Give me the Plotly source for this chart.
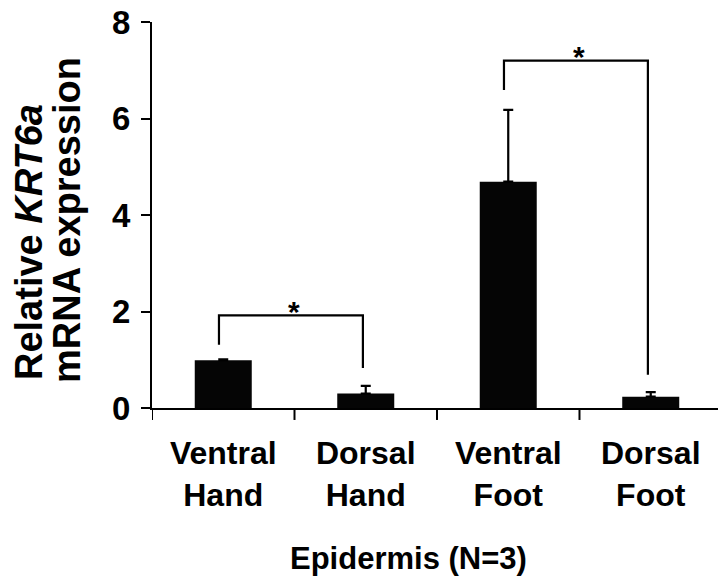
import plotly.graph_objects as go

categories = ["Ventral<br>Hand", "Dorsal<br>Hand", "Ventral<br>Foot", "Dorsal<br>Foot"]
values = [0.99, 0.30, 4.69, 0.235]
errors = [0.02, 0.16, 1.49, 0.095]
y_ticks = [0, 2, 4, 6, 8]

# significance comparisons: (left index, right index, left leg bottom, top, right leg bottom)
comparisons = [
    (0, 1, 1.31, 1.92, 0.83),
    (2, 3, 6.59, 7.20, 0.69),
]

FONT = "Liberation Sans, Arial, sans-serif"
BLACK = "#050505"

fig = go.Figure()
fig.add_trace(go.Bar(
    x=list(range(len(categories))),
    y=values,
    width=0.4,
    marker=dict(color=BLACK, line=dict(width=0)),
    error_y=dict(type="data", array=errors, arrayminus=[0]*len(errors),
                 symmetric=False, color="black", thickness=2.2, width=5),
))

shapes = []
annotations = []
for li, ri, lb, top, rb in comparisons:
    xl = li - 0.03
    xr = ri - 0.02
    shapes.append(dict(type="path", xref="x", yref="y",
                       path=f"M {xl},{lb} L {xl},{top} L {xr},{top} L {xr},{rb}",
                       line=dict(color="black", width=2.2)))
    annotations.append(dict(x=(xl + xr) / 2 + 0.02, y=top, xref="x", yref="y",
                            text="<b>*</b>", showarrow=False, yanchor="middle",
                            yshift=4, font=dict(family=FONT, size=30, color="black")))

# y-axis title, two tightly spaced lines
annotations.append(dict(x=0, y=0.43, xref="paper", yref="paper", xshift=-123,
                        text="<b>Relative <i>KRT6a</i></b>",
                        textangle=-90, showarrow=False, xanchor="center", yanchor="middle",
                        font=dict(family=FONT, size=38, color="black")))
annotations.append(dict(x=0, y=0.487, xref="paper", yref="paper", xshift=-85,
                        text="<b>mRNA expression</b>",
                        textangle=-90, showarrow=False, xanchor="center", yanchor="middle",
                        font=dict(family=FONT, size=38, color="black")))

annotations.append(dict(x=0.453, y=-0.389, xref="paper", yref="paper",
                        text="<b>Epidermis (N=3)</b>", showarrow=False,
                        xanchor="center", yanchor="middle",
                        font=dict(family=FONT, size=31, color="black")))

fig.update_layout(
    width=718, height=585,
    margin=dict(l=152, r=0, t=22, b=177),
    paper_bgcolor="white", plot_bgcolor="white",
    showlegend=False,
    shapes=shapes,
    annotations=annotations,
    xaxis=dict(
        range=[-0.5, 3.472],
        tickmode="array",
        tickvals=[0, 1, 2, 3],
        ticktext=[f"<b>{c}</b>" for c in categories],
        showgrid=False, zeroline=False,
        showline=True, linecolor="black", linewidth=2,
        ticks="",
        tickfont=dict(family=FONT, size=32, color="black"),
        ticklabelstandoff=16,
        ticklabeloverflow="allow",
        automargin=False,
    ),
    yaxis=dict(
        range=[0, 8],
        tickvals=y_ticks,
        ticktext=[f"<b>{t}</b>" for t in y_ticks],
        showgrid=False, zeroline=False,
        showline=True, linecolor="black", linewidth=2,
        ticks="outside", ticklen=9, tickwidth=2, tickcolor="black",
        tickfont=dict(family=FONT, size=33, color="black"),
        ticklabelstandoff=4,
        ticklabeloverflow="allow",
        automargin=False,
    ),
)

# x-axis boundary ticks between categories
for b in [-0.5, 0.5, 1.5, 2.5]:
    fig.add_shape(type="line", xref="x", yref="paper", x0=b, x1=b, y0=0, y1=-0.031,
                  line=dict(color="black", width=2))

fig.write_html("out.html", config={"displayModeBar": False},
               post_script="document.body.style.margin='0';")
